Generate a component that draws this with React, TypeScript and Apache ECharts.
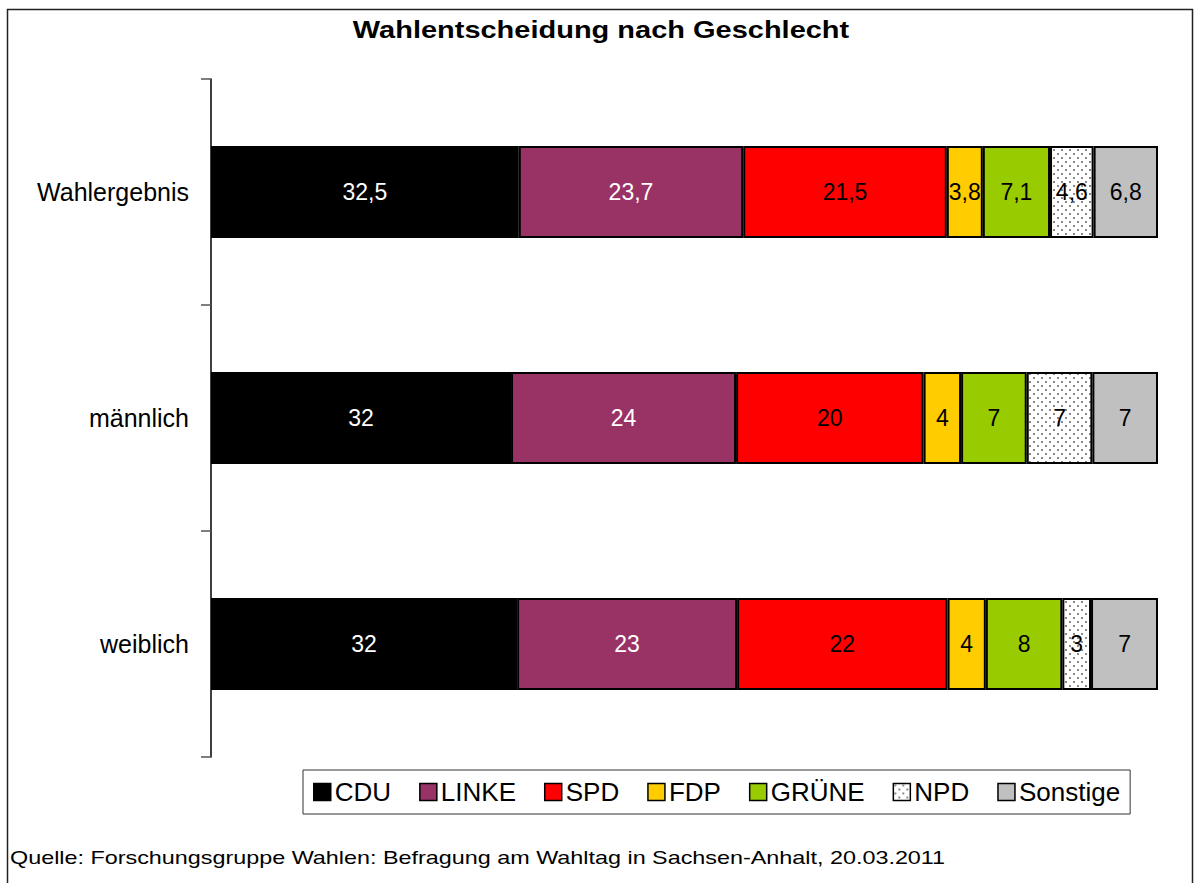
import React, { useEffect, useRef } from "react";
import * as echarts from "echarts";

const categories = ["Wahlergebnis", "männlich", "weiblich"];
const parties = ["CDU", "LINKE", "SPD", "FDP", "GRÜNE", "NPD", "Sonstige"];
const cdu = [32.5, 32, 32];
const linke = [23.7, 24, 23];
const spd = [21.5, 20, 22];
const fdp = [3.8, 4, 4];
const gruene = [7.1, 7, 8];
const npd = [4.6, 7, 3];
const sonstige = [6.8, 7, 7];
const seriesValues = [cdu, linke, spd, fdp, gruene, npd, sonstige];
const partyColors = ["#000000", "#993366", "#FF0000", "#FFCC00", "#99CC00", "pattern", "#C0C0C0"];
const labelColors = ["#ffffff", "#ffffff", "#000000", "#000000", "#000000", "#000000", "#000000"];

const titleText = "Wahlentscheidung nach Geschlecht";
const sourceText = "Quelle: Forschungsgruppe Wahlen: Befragung am Wahltag in Sachsen-Anhalt, 20.03.2011";

const FONT = "'Liberation Sans', Arial, sans-serif";

function makeDotPattern(): any {
  const c = document.createElement("canvas");
  c.width = 8;
  c.height = 8;
  const ctx = c.getContext("2d")!;
  ctx.fillStyle = "#ffffff";
  ctx.fillRect(0, 0, 8, 8);
  ctx.fillStyle = "#8a8a8a";
  ctx.fillRect(1, 1, 2, 2);
  ctx.fillRect(5, 5, 2, 2);
  return { image: c.toDataURL(), repeat: "repeat", imageWidth: 8, imageHeight: 8 };
}

export default function App() {
  const ref = useRef<HTMLDivElement>(null);
  useEffect(() => {
    if (!ref.current) return;
    const chart = echarts.init(ref.current, null, { renderer: "svg" });
    const pattern = makeDotPattern();
    const totals = categories.map((_, i) => seriesValues.reduce((s, arr) => s + arr[i], 0));
    const fmt = (v: number) => String(v).replace(".", ",");

    const series = parties.map((name, si) => ({
      name,
      type: "bar",
      stack: "total",
      barWidth: 92,
      itemStyle: {
        color: partyColors[si] === "pattern" ? pattern : partyColors[si],
        borderColor: "#000",
        borderWidth: 2,
      },
      label: {
        show: true,
        position: "inside",
        color: labelColors[si],
        fontSize: 23,
        fontFamily: FONT,
        formatter: (p: any) => fmt(p.data.raw),
      },
      data: seriesValues[si].map((v, i) => ({ value: (v / totals[i]) * 100, raw: v })),
    }));

    chart.setOption({
      animation: false,
      textStyle: { fontFamily: FONT },
      grid: { left: 211, right: 37, top: 79, bottom: 126, containLabel: false },
      xAxis: {
        type: "value",
        min: 0,
        max: 100,
        show: false,
      },
      yAxis: {
        type: "category",
        data: categories,
        inverse: true,
        axisLine: { show: true, lineStyle: { color: "#000", width: 1.5 } },
        axisTick: { show: true, length: 10, lineStyle: { color: "#555", width: 1.5 } },
        axisLabel: { fontSize: 25, color: "#000", margin: 22, fontFamily: FONT },
      },
      legend: {
        data: parties,
        left: 303,
        top: 770,
        orient: "horizontal",
        itemWidth: 17,
        itemHeight: 17,
        itemGap: 28,
        padding: [9, 10, 9, 10],
        borderColor: "#333",
        borderWidth: 1,
        icon: "rect",
        itemStyle: { borderColor: "#000", borderWidth: 1.5 },
        textStyle: { fontSize: 26, color: "#000", fontFamily: FONT, padding: [0, 0, 0, -1] },
      },
      graphic: [
        {
          type: "rect",
          shape: { x: 7.5, y: 9.5, width: 1185, height: 900 },
          style: { fill: "none", stroke: "#222", lineWidth: 1.5 },
          silent: true,
        },
        {
          type: "text",
          x: 601,
          y: 30,
          scaleX: 1.26,
          style: {
            text: titleText,
            fontSize: 23,
            fontWeight: "bold",
            fill: "#000",
            fontFamily: FONT,
            align: "center",
            verticalAlign: "middle",
          },
        },
        {
          type: "text",
          x: 10,
          y: 858,
          scaleX: 1.23,
          style: {
            text: sourceText,
            fontSize: 19,
            fill: "#000",
            fontFamily: FONT,
            align: "left",
            verticalAlign: "middle",
          },
        },
      ],
      series,
    });
    return () => chart.dispose();
  }, []);
  return (
    <div
      ref={ref}
      style={{ position: "absolute", left: 0, top: 0, width: 1195, height: 883, background: "#fff" }}
    />
  );
}
